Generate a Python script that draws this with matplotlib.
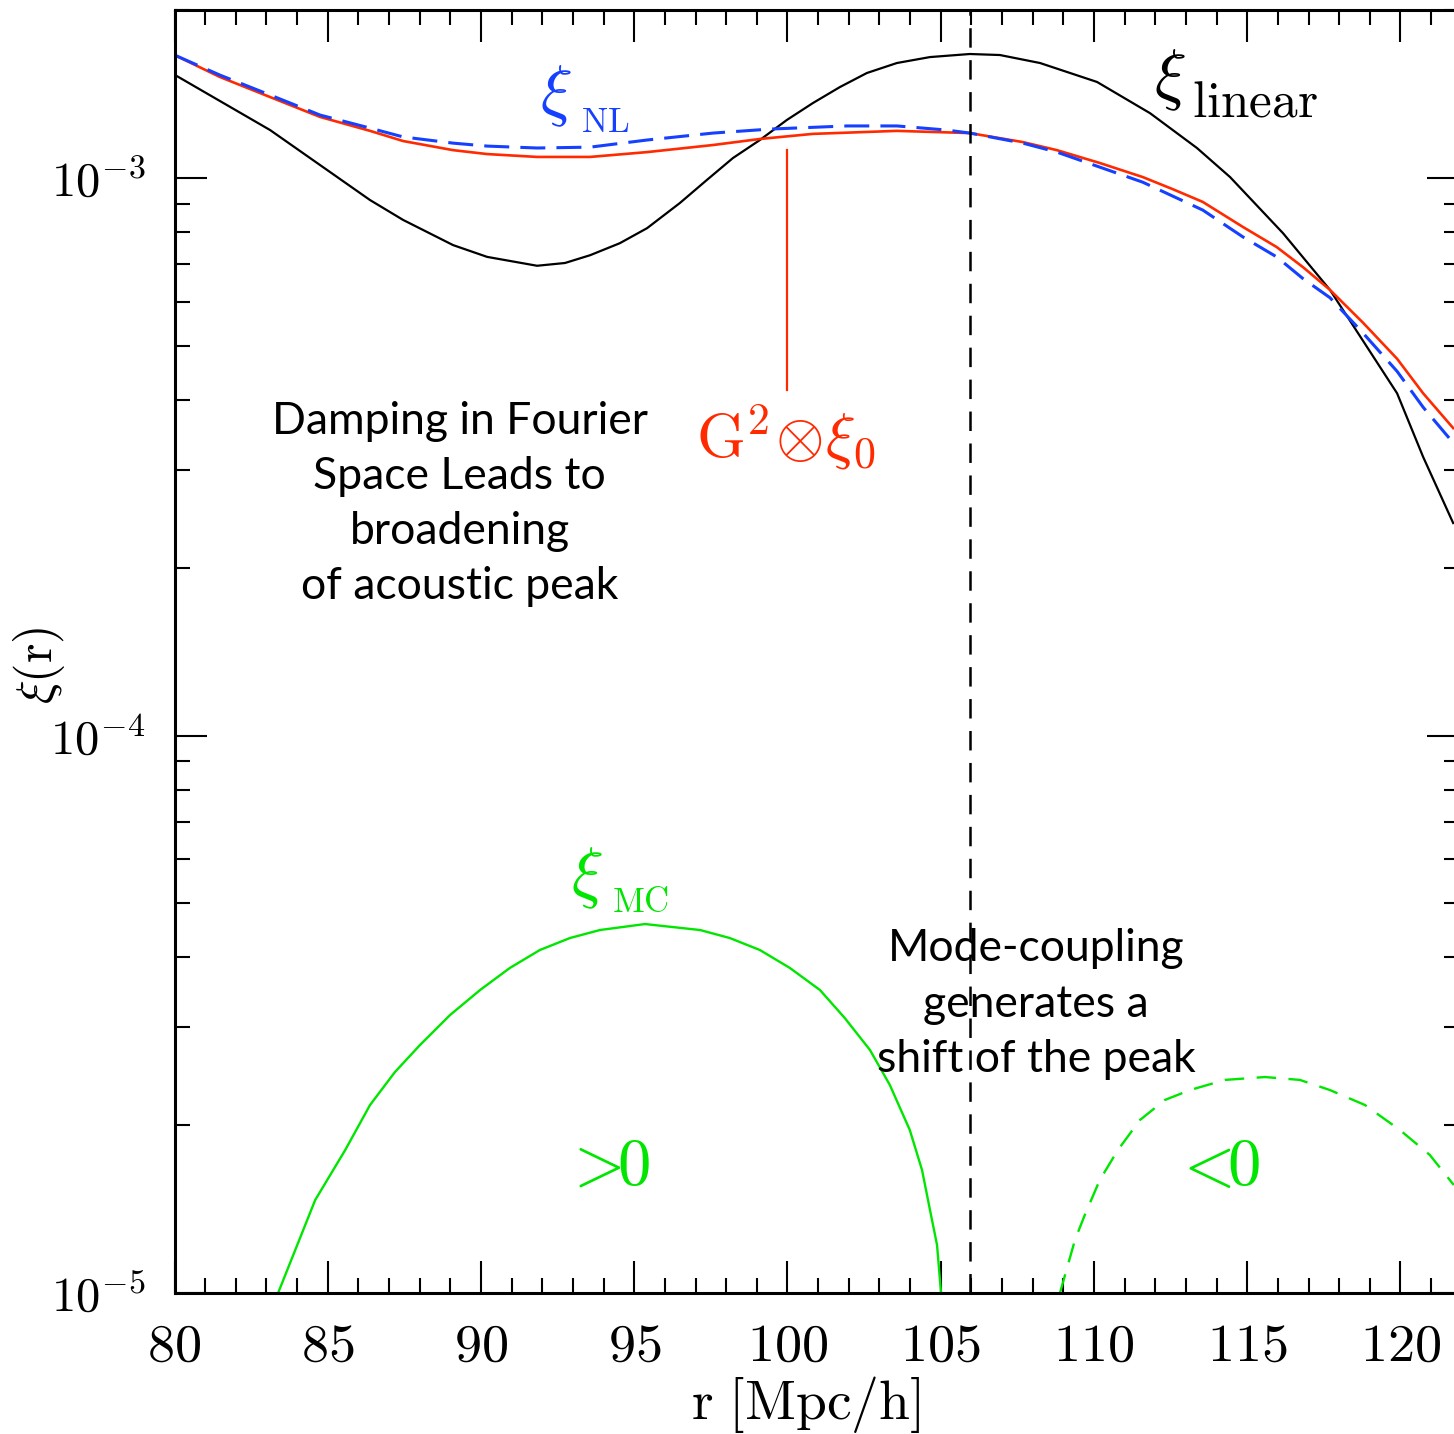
import numpy as np
import matplotlib
matplotlib.use("Agg")
import matplotlib.pyplot as plt
from matplotlib.ticker import MultipleLocator, LogLocator, FuncFormatter, NullFormatter

plt.rcParams["mathtext.fontset"] = "cm"
plt.rcParams["font.family"] = ["Lato", "DejaVu Sans"]
plt.rcParams["lines.scale_dashes"] = False

# Linear-theory correlation function
r_lin = [80.02, 83.12, 84.75, 86.38, 87.46, 89.09, 90.20, 91.83, 92.74, 93.56,
         94.53, 95.42, 96.49, 97.37, 98.22, 99.10, 99.98, 100.83, 101.71, 102.59,
         103.57, 104.65, 105.95, 106.93, 108.24, 110.10, 111.83, 113.36, 114.44,
         116.17, 117.70, 119.89, 120.74, 121.72]
xi_lin = [1.530e-3, 1.219e-3, 1.055e-3, 9.13e-4, 8.41e-4, 7.58e-4, 7.22e-4, 6.96e-4,
          7.04e-4, 7.27e-4, 7.64e-4, 8.13e-4, 9.02e-4, 9.92e-4, 1.086e-3, 1.170e-3,
          1.271e-3, 1.363e-3, 1.456e-3, 1.543e-3, 1.608e-3, 1.648e-3, 1.669e-3,
          1.662e-3, 1.608e-3, 1.487e-3, 1.307e-3, 1.132e-3, 1.004e-3, 7.96e-4,
          6.30e-4, 4.11e-4, 3.16e-4, 2.405e-4]

# Damped (propagator-convolved) correlation function
r_g2 = [80.0, 81.48, 83.12, 84.75, 86.38, 87.46, 89.09, 90.20, 91.83, 93.56, 95.42,
        97.57, 99.10, 100.83, 103.57, 105.95, 107.68, 108.79, 110.19, 111.59,
        112.57, 113.55, 114.86, 115.96, 116.82, 117.70, 118.78, 119.89, 120.74, 121.72]
xi_g2 = [1.662e-3, 1.518e-3, 1.397e-3, 1.287e-3, 1.215e-3, 1.165e-3, 1.122e-3,
         1.104e-3, 1.091e-3, 1.091e-3, 1.113e-3, 1.146e-3, 1.175e-3, 1.200e-3,
         1.215e-3, 1.204e-3, 1.160e-3, 1.122e-3, 1.064e-3, 1.004e-3, 9.55e-4,
         9.06e-4, 8.17e-4, 7.52e-4, 6.92e-4, 6.30e-4, 5.50e-4, 4.74e-4, 4.11e-4, 3.56e-4]

# Full non-linear correlation function
r_nl = [80.0, 81.48, 83.12, 84.75, 86.38, 87.46, 89.09, 90.20, 91.83, 93.56, 95.42,
        97.57, 99.43, 101.94, 103.57, 105.20, 105.95, 107.68, 108.79, 110.19, 111.59,
        112.57, 113.55, 114.86, 115.96, 116.82, 117.70, 118.78, 119.89, 120.74, 121.72]
xi_nl = [1.662e-3, 1.530e-3, 1.409e-3, 1.297e-3, 1.229e-3, 1.185e-3, 1.155e-3,
         1.141e-3, 1.132e-3, 1.136e-3, 1.170e-3, 1.204e-3, 1.224e-3, 1.240e-3,
         1.240e-3, 1.219e-3, 1.204e-3, 1.155e-3, 1.113e-3, 1.046e-3, 9.83e-4,
         9.28e-4, 8.76e-4, 7.84e-4, 7.22e-4, 6.60e-4, 6.10e-4, 5.27e-4, 4.50e-4,
         3.88e-4, 3.35e-4]

# Mode-coupling term: positive part
r_mc_pos = [83.38, 84.59, 85.57, 86.38, 87.19, 88.01, 88.99, 89.97, 90.94, 91.92,
            92.90, 93.88, 95.35, 97.15, 98.12, 99.10, 100.08, 101.06, 101.87, 102.69,
            103.34, 103.99, 104.39, 104.65, 104.88, 105.01]
xi_mc_pos = [1.0e-5, 1.468e-5, 1.805e-5, 2.174e-5, 2.490e-5, 2.785e-5, 3.152e-5,
             3.495e-5, 3.828e-5, 4.123e-5, 4.332e-5, 4.478e-5, 4.590e-5, 4.478e-5,
             4.332e-5, 4.123e-5, 3.828e-5, 3.495e-5, 3.113e-5, 2.729e-5, 2.361e-5,
             1.961e-5, 1.662e-5, 1.409e-5, 1.219e-5, 1.0e-5]

# Mode-coupling term: magnitude of negative part
r_mc_neg = [108.89, 109.38, 109.70, 110.19, 110.78, 111.50, 112.31, 113.13, 114.27,
            115.58, 116.72, 117.70, 118.84, 119.98, 120.96, 121.74]
xi_mc_neg = [1.0e-5, 1.245e-5, 1.380e-5, 1.595e-5, 1.805e-5, 2.043e-5, 2.219e-5,
             2.312e-5, 2.411e-5, 2.440e-5, 2.411e-5, 2.312e-5, 2.174e-5, 1.961e-5,
             1.768e-5, 1.562e-5]

r_peak = 105.95
r_marker = 100.0
marker_span = [4.17e-4, 1.122e-3]

RED = "#ff2a00"
BLUE = "#1540ff"
GREEN = "#00e600"

fig = plt.figure(figsize=(14.54, 14.34), dpi=100)
ax = fig.add_axes([174.5 / 1454, 141 / 1434, (1459 - 174.5) / 1454, (1293 - 10.2) / 1434])
ax.set_yscale("log")
ax.set_xlim(80, 121.91)
ax.set_ylim(1e-5, 2e-3)

ax.plot(r_lin, xi_lin, color="black", lw=1.6)
ax.plot(r_g2, xi_g2, color=RED, lw=1.9)
ax.plot(r_nl, xi_nl, color=BLUE, lw=2.2, dashes=(18, 8))
ax.plot(r_mc_pos, xi_mc_pos, color=GREEN, lw=1.7)
ax.plot(r_mc_neg, xi_mc_neg, color=GREEN, lw=1.7, dashes=(14, 9))
ax.axvline(r_peak, color="black", lw=1.8, dashes=(14, 9))
ax.plot([r_marker, r_marker], marker_span, color=RED, lw=1.6)

# Axis styling
for s in ax.spines.values():
    s.set_linewidth(2.2)
ax.xaxis.set_major_locator(MultipleLocator(5))
ax.xaxis.set_minor_locator(MultipleLocator(1))
ax.yaxis.set_major_locator(LogLocator(base=10))
ax.yaxis.set_minor_locator(LogLocator(base=10, subs=np.arange(2, 10)))
ax.yaxis.set_minor_formatter(NullFormatter())
ax.xaxis.set_major_formatter(FuncFormatter(lambda v, p: r"$%d$" % round(v)))
ax.yaxis.set_major_formatter(FuncFormatter(lambda v, p: r"$10^{%d}$" % round(np.log10(v))))
ax.tick_params(which="both", direction="in", top=True, right=True, width=1.5)
ax.tick_params(which="major", length=23)
ax.tick_params(which="minor", length=11)
ax.tick_params(axis="x", which="major", labelsize=39, pad=20)
ax.tick_params(axis="y", which="major", labelsize=35, pad=21)

ax.set_xlabel(r"$\mathrm{r\ [Mpc/h]}$", fontsize=40)
ax.xaxis.set_label_coords(0.491, -0.063)
ax.set_ylabel(r"$\xi(\mathrm{r})$", fontsize=36)
ax.yaxis.set_label_coords(-0.0837, 0.4895)

# Curve labels
ax.text(112.48, 1.499e-3, r"$\xi$", fontsize=48, color="black", ha="center", va="center")
ax.text(113.20, 1.291e-3, r"$\mathrm{linear}$", fontsize=37, color="black", ha="left", va="baseline")
ax.text(92.45, 1.404e-3, r"$\xi$", fontsize=48, color=BLUE, ha="center", va="center")
ax.text(93.26, 1.209e-3, r"$\mathrm{NL}$", fontsize=25, color=BLUE, ha="left", va="baseline")
ax.text(93.46, 5.55e-5, r"$\xi$", fontsize=48, color=GREEN, ha="center", va="center")
ax.text(94.27, 4.825e-5, r"$\mathrm{MC}$", fontsize=25, color=GREEN, ha="left", va="baseline")
ax.text(97.0, 3.147e-4, r"$\mathrm{G}^2\!\otimes\!\xi_0$", fontsize=45, color=RED, ha="left", va="baseline")
ax.text(92.65, 1.562e-5, r"$>\!\!0$", fontsize=48, color=GREEN, ha="left", va="baseline")
ax.text(112.55, 1.562e-5, r"$<\!\!0$", fontsize=48, color=GREEN, ha="left", va="baseline")

# Annotations
ax.text(89.30, 2.601e-4, "Damping in Fourier\nSpace Leads to\nbroadening\nof acoustic peak",
        fontsize=32, ha="center", va="center", multialignment="center", linespacing=1.43)
ax.text(108.11, 3.299e-5, "Mode-coupling\ngenerates a\nshift of the peak",
        fontsize=32, ha="center", va="center", multialignment="center", linespacing=1.43)

fig.savefig("out.png", dpi=100)
